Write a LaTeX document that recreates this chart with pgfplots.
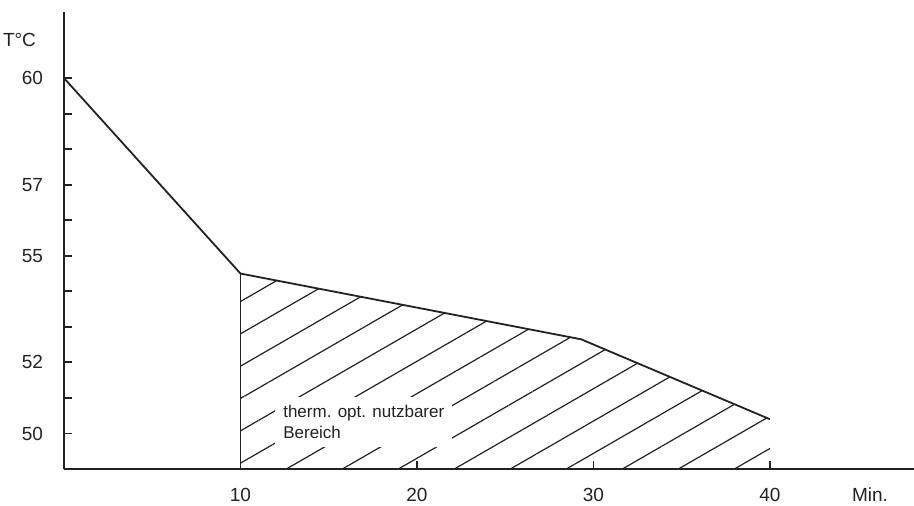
\documentclass[border=0pt]{standalone}
\usepackage{fontspec}
\setmainfont{Liberation Sans}
\usepackage{pgfplots}
\pgfplotsset{compat=1.18}
\usetikzlibrary{patterns.meta}
\definecolor{ink}{HTML}{222222}
\begin{document}
\begin{tikzpicture}
\begin{axis}[
  name=ax,
  scale only axis,
  width=425pt, height=228.5pt,
  xmin=0, xmax=48.16, ymin=49, ymax=61.86,
  axis x line=bottom, axis y line=left,
  axis line style={-, line width=1.1pt, color=ink},
  xtick={10,20,30,40},
  ytick={50,51,52,53,54,55,56,57,58,59,60},
  yticklabels={50,,52,,,55,,57,,,60},
  tick align=inside,
  major tick length=4pt,
  tick style={line width=0.9pt, color=ink},
  /pgf/number format/assume math mode=true,
  ticklabel style={font=\fontsize{9.5}{11}\selectfont, color=ink},
  yticklabel style={xshift=-7pt},
  xticklabel style={yshift=-6pt},
  clip=false,
]
\addplot[draw=none, pattern={Lines[angle=30,distance=14pt,line width=0.6pt]}, pattern color=ink]
  coordinates {(10,49) (10,54.5) (29.3,52.65) (40,50.4) (40,49)} -- cycle;
\addplot[line width=0.9pt, color=ink] coordinates {(0,60) (10,54.5) (29.3,52.65) (40,50.4)};
\addplot[line width=0.9pt, color=ink] coordinates {(10,49) (10,54.5)};
\node[fill=white, inner sep=4pt, align=left, anchor=north west, font=\fontsize{8.5}{10.5}\selectfont, text=ink]
  at (axis cs:11.95,51.03) {therm. opt. nutzbarer\\Bereich};
\node[font=\fontsize{9.5}{11}\selectfont, text=ink] at (axis cs:45.67,49) [yshift=-13pt] {Min.};
\node[anchor=east, font=\fontsize{9.5}{11}\selectfont, text=ink] at (axis cs:0,61.08) [xshift=-10.5pt] {T°C};
\end{axis}
\pgfresetboundingbox
\path[use as bounding box] ([xshift=-32pt,yshift=-18pt]ax.south west) rectangle ([yshift=6pt]ax.north east);
\end{tikzpicture}
\end{document}
